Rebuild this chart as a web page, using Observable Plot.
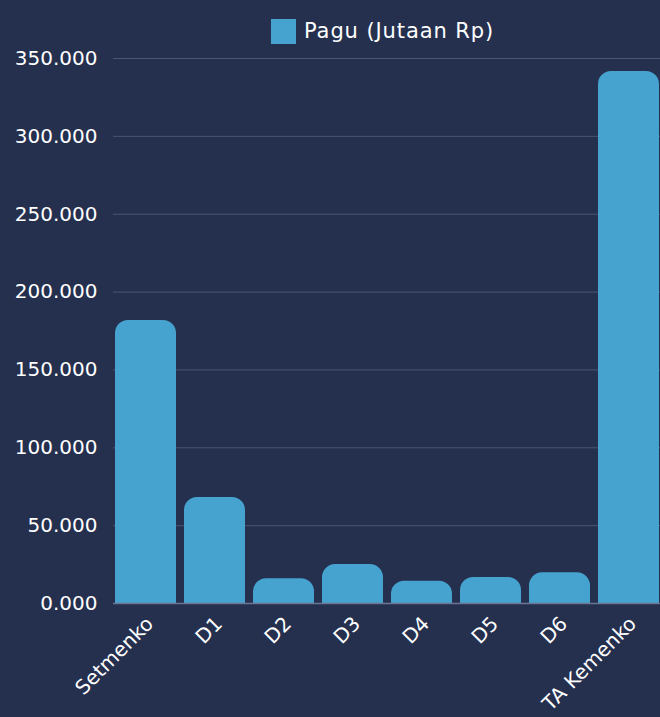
<!DOCTYPE html>
<html>
<head>
<meta charset="utf-8">
<script src="https://cdn.jsdelivr.net/npm/d3@7"></script>
<script src="https://cdn.jsdelivr.net/npm/@observablehq/plot@0.6"></script>
<style>
  html, body { margin: 0; padding: 0; background: #25304f; }
  body { width: 660px; height: 717px; overflow: hidden; font-family: "DejaVu Sans", sans-serif; color: #ffffff; }
  #legend { height: 46px; position: relative; }
  #legend .item { position: absolute; left: 271px; top: 19px; display: flex; align-items: center; }
  #legend .sw { width: 25px; height: 25px; background: #46a3cf; margin-right: 8px; }
  #legend .lbl { font-size: 21px; line-height: 25px; letter-spacing: 0.9px; }
</style>
</head>
<body>
<div id="legend"><div class="item"><div class="sw"></div><div class="lbl">Pagu (Jutaan Rp)</div></div></div>
<div id="chart"></div>
<script>
const seriesName = "Pagu (Jutaan Rp)";
const categories = ["Setmenko", "D1", "D2", "D3", "D4", "D5", "D6", "TA Kemenko"];
const values = [181800, 68100, 15900, 25000, 14300, 16700, 19700, 341700];
const yTicks = [0, 50000, 100000, 150000, 200000, 250000, 300000, 350000];

const data = categories.map((c, i) => ({category: c, value: values[i]}));
const fmt = v => d3.format(".3f")(v / 1000);

const chart = Plot.plot({
  width: 660,
  height: 671,
  marginTop: 12,
  marginLeft: 113,
  marginRight: 0,
  marginBottom: 114,
  style: {background: "#25304f", color: "#ffffff", fontFamily: "'DejaVu Sans', sans-serif", fontSize: "20px"},
  x: {domain: categories, paddingInner: 0.116, paddingOuter: 0.02, label: null},
  y: {domain: [0, 350000], label: null},
  marks: [
    Plot.ruleY(yTicks.filter(d => d > 0), {stroke: "#4a5676", strokeWidth: 1}),
    Plot.barY(data, {x: "category", y: "value", fill: "#46a3cf", ry1: 13}),
    Plot.ruleY([0], {stroke: "#6b7694", strokeWidth: 1.5}),
    Plot.axisY({ticks: yTicks, tickFormat: fmt, tickSize: 0, tickPadding: 16, label: null, fontSize: 20}),
    Plot.axisX({tickSize: 0, tickRotate: -45, tickPadding: 17, dx: 4, label: null, fontSize: 20})
  ]
});
document.getElementById("chart").appendChild(chart);
</script>
</body>
</html>
